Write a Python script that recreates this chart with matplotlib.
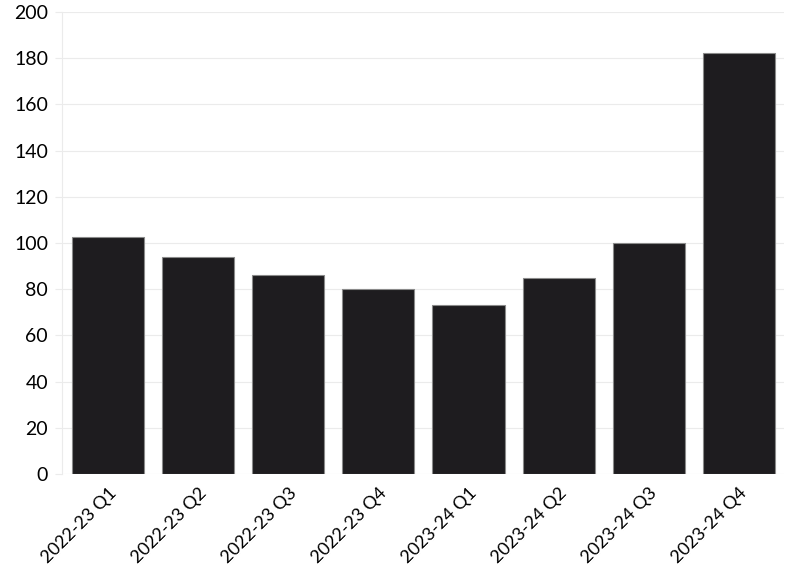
import matplotlib
matplotlib.use("Agg")
import matplotlib.pyplot as plt

quarters = ["2022-23 Q1", "2022-23 Q2", "2022-23 Q3", "2022-23 Q4",
            "2023-24 Q1", "2023-24 Q2", "2023-24 Q3", "2023-24 Q4"]
values = [102.6, 94, 86, 80, 73.2, 85, 100, 182.3]
y_ticks = [0, 20, 40, 60, 80, 100, 120, 140, 160, 180, 200]

plt.rcParams['font.family'] = ['Lato', 'DejaVu Sans']

fig = plt.figure(figsize=(8, 5.75), dpi=100)
ax = fig.add_axes([0.0775, 0.1757, 0.9025, 0.8033])

ax.bar(range(len(quarters)), values, width=0.8, color="#1e1c1f",
       edgecolor="#8a8a8a", linewidth=0.8, zorder=3)

ax.set_ylim(0, 200)
ax.set_xlim(-0.51, 7.5)
ax.set_yticks(y_ticks)
ax.set_xticks(range(len(quarters)))
ax.set_xticklabels(quarters, rotation=45, ha="right", rotation_mode="anchor")

ax.grid(axis="y", color="#ebebeb", linewidth=0.8, zorder=0)
for s in ["top", "right", "bottom"]:
    ax.spines[s].set_visible(False)
ax.spines["left"].set_color("#ebebeb")
ax.tick_params(axis="y", length=5, color="#ebebeb", labelsize=14, pad=5)
ax.tick_params(axis="x", length=0, labelsize=13, pad=8)

fig.savefig("out.png", dpi=100)
